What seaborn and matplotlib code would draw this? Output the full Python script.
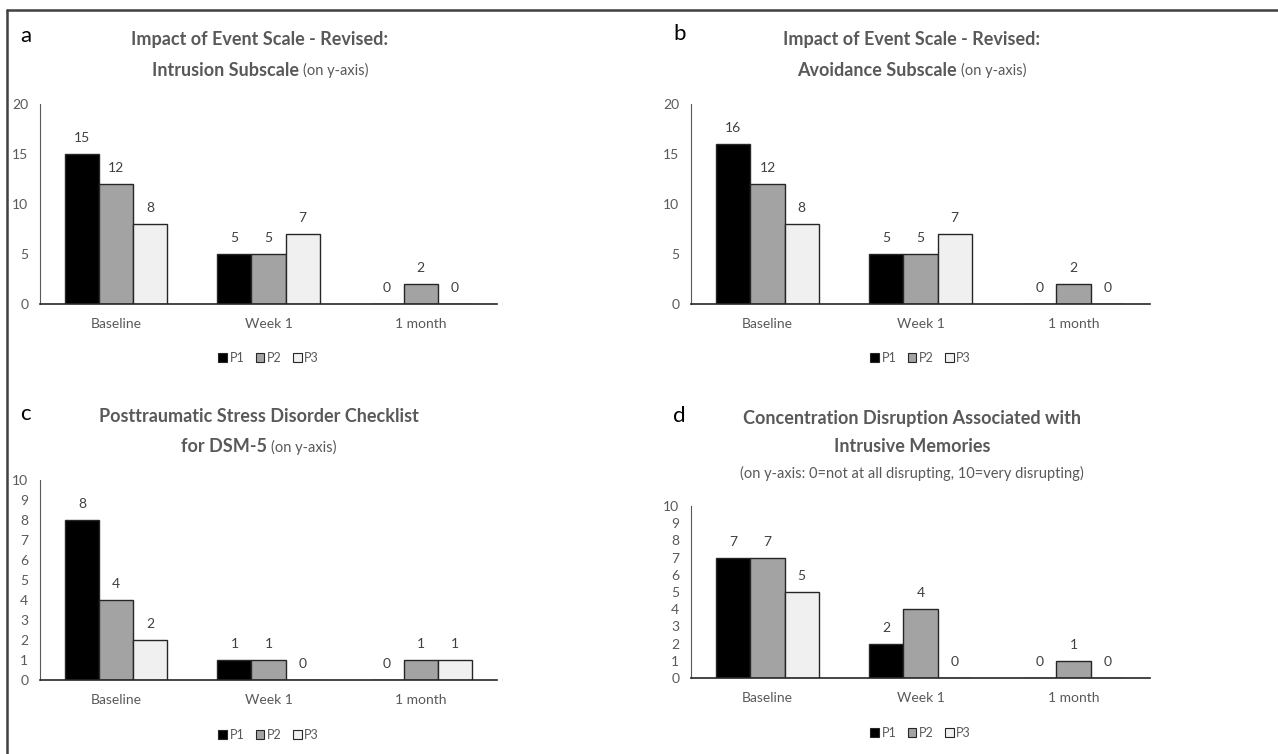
import matplotlib
matplotlib.use("Agg")
import matplotlib.pyplot as plt
import seaborn as sns
import pandas as pd
from matplotlib.patches import Patch
from matplotlib.lines import Line2D

sns.set_style("white")
plt.rcParams["font.family"] = ["Lato", "DejaVu Sans"]

timepoints = ["Baseline", "Week 1", "1 month"]
participants = ["P1", "P2", "P3"]

ies_intrusion = {"P1": [15, 5, 0], "P2": [12, 5, 2], "P3": [8, 7, 0]}
ies_avoidance = {"P1": [16, 5, 0], "P2": [12, 5, 2], "P3": [8, 7, 0]}
pcl5 = {"P1": [8, 1, 0], "P2": [4, 1, 1], "P3": [2, 0, 1]}
concentration = {"P1": [7, 2, 0], "P2": [7, 4, 1], "P3": [5, 0, 0]}

bar_colors = ["#000000", "#a3a3a3", "#f0f0f0"]
text_color = "#595959"


def to_long(values):
    rows = []
    for p in participants:
        for t, v in zip(timepoints, values[p]):
            rows.append({"Time": t, "Participant": p, "Score": v})
    return pd.DataFrame(rows)


def draw_panel(ax, values, ymax, ystep, legend_y):
    df = to_long(values)
    sns.barplot(data=df, x="Time", y="Score", hue="Participant",
                palette=bar_colors, width=0.67, edgecolor="#262626",
                linewidth=1.0, ax=ax, legend=False)
    for cont in ax.containers:
        ax.bar_label(cont, padding=7, fontsize=10, color="#404040")
    ax.set_ylim(0, ymax)
    ax.set_yticks(range(0, ymax + 1, ystep))
    ax.set_xlim(-0.5, 2.5)
    ax.set_xlabel("")
    ax.set_ylabel("")
    ax.tick_params(axis="both", length=0, labelsize=10, labelcolor=text_color)
    ax.tick_params(axis="x", pad=10)
    ax.tick_params(axis="y", pad=8.5)
    for s in ["top", "right"]:
        ax.spines[s].set_visible(False)
    ax.spines["left"].set_color("#595959")
    ax.spines["bottom"].set_color("#262626")
    ax.spines["bottom"].set_linewidth(1.2)
    handles = [Patch(facecolor=c, edgecolor="#262626", linewidth=0.8, label=p)
               for c, p in zip(bar_colors, participants)]
    leg = ax.legend(handles=handles, loc="center", bbox_to_anchor=(0.5, legend_y),
                    ncol=3, frameon=False, fontsize=9, handlelength=0.7,
                    handleheight=0.7, handletextpad=0.2, columnspacing=0.9)
    for t in leg.get_texts():
        t.set_color(text_color)


fig = plt.figure(figsize=(12.78, 7.54), dpi=100)
W, H = 1278, 754


def box(l, r, top, bottom):
    return [l / W, 1 - bottom / H, (r - l) / W, (bottom - top) / H]


ax_a = fig.add_axes(box(40, 497, 104, 304))
ax_b = fig.add_axes(box(691, 1150, 104, 304))
ax_c = fig.add_axes(box(40, 497, 480, 680))
ax_d = fig.add_axes(box(691, 1150, 506, 678))

draw_panel(ax_a, ies_intrusion, 20, 5, -0.27)
draw_panel(ax_b, ies_avoidance, 20, 5, -0.27)
draw_panel(ax_c, pcl5, 10, 1, -0.275)
draw_panel(ax_d, concentration, 10, 1, -0.32)

renderer = fig.canvas.get_renderer()


def title_line(xc, y, bold, normal=None):
    t1 = fig.text(0, 1 - y / H, bold, fontsize=13, fontweight="bold",
                  color=text_color, va="center", ha="left")
    w1 = t1.get_window_extent(renderer).width
    w2 = 0
    t2 = None
    if normal:
        t2 = fig.text(0, 1 - y / H, normal, fontsize=10.5, color=text_color,
                      va="center", ha="left")
        w2 = t2.get_window_extent(renderer).width
    x0 = xc - (w1 + w2) / 2
    t1.set_x(x0 / W)
    if t2 is not None:
        t2.set_x((x0 + w1) / W)


title_line(260, 40, "Impact of Event Scale - Revised:")
title_line(260, 70, "Intrusion Subscale ", "(on y-axis)")
title_line(912, 40, "Impact of Event Scale - Revised:")
title_line(912, 70, "Avoidance Subscale ", "(on y-axis)")
title_line(259, 416, "Posttraumatic Stress Disorder Checklist")
title_line(259, 447, "for DSM-5 ", "(on y-axis)")
title_line(912, 418, "Concentration Disruption Associated with")
title_line(912, 447, "Intrusive Memories")
fig.text(912 / W, 1 - 473 / H,
         "(on y-axis: 0=not at all disrupting, 10=very disrupting)",
         fontsize=10.5, color=text_color, ha="center", va="center")

for letter, x, y in [("a", 20, 36), ("b", 673, 34), ("c", 20, 414), ("d", 673, 416)]:
    fig.text(x / W, 1 - y / H, letter, fontsize=16, color="#000000",
             ha="left", va="center")

# outer frame: top and left lines only
fig.add_artist(Line2D([7 / W, 1], [1 - 10 / H, 1 - 10 / H], color="#404040", lw=1.8))
fig.add_artist(Line2D([7 / W, 7 / W], [0, 1 - 10 / H], color="#404040", lw=1.8))

fig.savefig("out.png", dpi=100)
